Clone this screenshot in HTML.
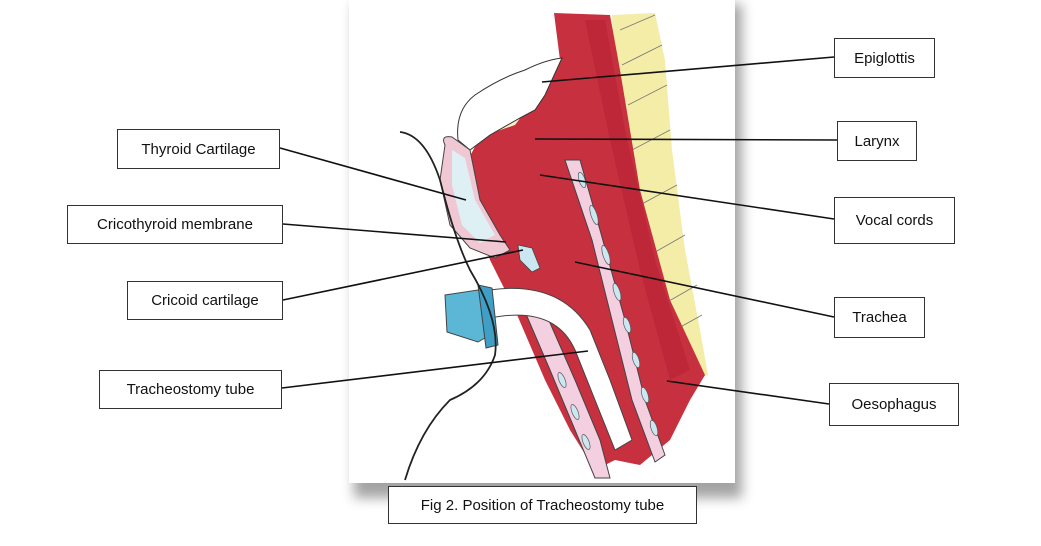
<!DOCTYPE html>
<html><head><meta charset="utf-8"><style>
body{margin:0;width:1041px;height:546px;background:#fff;overflow:hidden;position:relative;font-family:"Liberation Sans",sans-serif}
.b{position:absolute;border:1.5px solid #333;background:#fff;font-size:15px;color:#111;display:flex;align-items:center;justify-content:center;box-sizing:border-box}
svg{position:absolute;left:0;top:0}
</style></head><body>
<svg width="1041" height="546" viewBox="0 0 1041 546">
<defs><filter id="sh" x="-10%" y="-10%" width="130%" height="130%"><feGaussianBlur stdDeviation="6"/></filter></defs>
<rect x="354" y="4" width="388" height="494" fill="#666" filter="url(#sh)" opacity="0.6"/>
<rect x="349" y="0" width="386" height="483" fill="#fff"/>
<!-- yellow -->
<path d="M612,15 L655,13 L665,60 L672,150 L685,250 L700,330 L708,375 L680,385 L640,250 L615,100 Z" fill="#f3eda8"/>
<g stroke="#777" stroke-width="0.8"><line x1="620" y1="30" x2="655" y2="15"/><line x1="622" y1="65" x2="662" y2="45"/><line x1="628" y1="105" x2="667" y2="85"/><line x1="632" y1="150" x2="670" y2="130"/><line x1="640" y1="205" x2="677" y2="185"/><line x1="650" y1="255" x2="685" y2="235"/><line x1="662" y1="305" x2="697" y2="285"/><line x1="675" y1="330" x2="702" y2="315"/></g>
<path d="M460,120 Q480,95 520,88 L550,95 L560,120 L520,130 L480,140 L465,160 Z" fill="#f7f2c8"/>
<!-- red muscle -->
<path d="M554,13 L610,15 L620,70 L640,190 L670,300 L705,375 L690,400 L670,440 L640,465 L615,460 L595,470 L570,430 L545,380 L515,310 L490,260 L472,200 L468,160 L480,137 L515,125 L545,85 L560,60 Z" fill="#c7303f"/>
<path d="M585,20 L605,20 L625,130 L655,260 L690,370 L670,380 L640,270 L610,140 Z" fill="#b31e32" opacity="0.5"/>
<!-- epiglottis white -->
<path d="M525,70 Q545,60 562,58 L545,95 L535,110 L520,118 L490,135 L470,150 L458,140 Q455,110 475,95 Q500,78 525,70 Z" fill="#fff" stroke="#333" stroke-width="1"/>
<!-- trachea rings band -->
<path d="M565,160 L580,160 L600,230 L625,320 L645,400 L665,455 L655,462 L632,400 L612,320 L592,240 Z" fill="#f4cfe0" stroke="#444" stroke-width="1"/>
<path d="M520,300 L540,300 L575,380 L600,440 L610,478 L595,478 L575,430 L550,370 Z" fill="#f4cfe0" stroke="#444" stroke-width="1"/>
<g fill="#cbe8f2" stroke="#555" stroke-width="0.7">
<ellipse cx="582" cy="180" rx="3" ry="8" transform="rotate(-18 582 180)"/>
<ellipse cx="594" cy="215" rx="3" ry="10" transform="rotate(-18 594 215)"/>
<ellipse cx="606" cy="255" rx="3" ry="10" transform="rotate(-18 606 255)"/>
<ellipse cx="617" cy="292" rx="3" ry="9" transform="rotate(-18 617 292)"/>
<ellipse cx="627" cy="325" rx="3" ry="8" transform="rotate(-18 627 325)"/>
<ellipse cx="636" cy="360" rx="3" ry="8" transform="rotate(-18 636 360)"/>
<ellipse cx="645" cy="395" rx="3" ry="8" transform="rotate(-18 645 395)"/>
<ellipse cx="654" cy="428" rx="3" ry="8" transform="rotate(-18 654 428)"/>
<ellipse cx="562" cy="380" rx="3" ry="8" transform="rotate(-22 562 380)"/>
<ellipse cx="575" cy="412" rx="3" ry="8" transform="rotate(-22 575 412)"/>
<ellipse cx="586" cy="442" rx="3" ry="8" transform="rotate(-22 586 442)"/>
</g>
<!-- thyroid cartilage -->
<path d="M445,145 Q440,135 452,137 L470,150 L480,200 L500,235 L510,250 L495,258 L470,248 L450,225 L440,180 Z" fill="#f0c8d4" stroke="#444" stroke-width="1"/>
<path d="M452,150 L465,158 L475,200 L495,235 L480,243 L462,225 L452,185 Z" fill="#dff0f5"/>
<path d="M518,245 L532,248 L540,268 L532,272 L520,260 Z" fill="#cbe8f2" stroke="#444" stroke-width="0.8"/>
<!-- tube -->
<path d="M490,290 Q560,280 590,330 L610,380 L632,440 L615,450 L595,400 L575,350 Q555,305 490,318 Z" fill="#fff" stroke="#444" stroke-width="1"/>
<path d="M445,295 L478,290 L488,300 L490,335 L478,342 L447,332 Z" fill="#5cb7d6" stroke="#444" stroke-width="1"/>
<path d="M478,285 L492,288 L498,345 L486,348 Z" fill="#3f9fc6" stroke="#444" stroke-width="1"/>
<!-- black curved line -->
<path d="M400,132 Q425,135 440,180 Q455,240 470,270 Q500,320 495,355 Q485,385 450,400 Q420,430 405,480" fill="none" stroke="#222" stroke-width="1.8"/>
<!-- leader lines -->
<g stroke="#111" stroke-width="1.6" fill="none">
<line x1="834" y1="57" x2="542" y2="82"/>
<line x1="837" y1="140" x2="535" y2="139"/>
<line x1="834" y1="219" x2="540" y2="175"/>
<line x1="834" y1="317" x2="575" y2="262"/>
<line x1="829" y1="404" x2="667" y2="381"/>
<line x1="280" y1="148" x2="466" y2="200"/>
<line x1="283" y1="224" x2="506" y2="242"/>
<line x1="283" y1="300" x2="523" y2="250"/>
<line x1="282" y1="388" x2="588" y2="351"/>
</g>
</svg>
<div class="b" style="left:834px;top:38px;width:101px;height:40px">Epiglottis</div>
<div class="b" style="left:837px;top:121px;width:80px;height:40px">Larynx</div>
<div class="b" style="left:834px;top:197px;width:121px;height:47px">Vocal cords</div>
<div class="b" style="left:834px;top:297px;width:91px;height:41px">Trachea</div>
<div class="b" style="left:829px;top:383px;width:130px;height:43px">Oesophagus</div>
<div class="b" style="left:117px;top:129px;width:163px;height:40px">Thyroid Cartilage</div>
<div class="b" style="left:67px;top:205px;width:216px;height:39px">Cricothyroid membrane</div>
<div class="b" style="left:127px;top:281px;width:156px;height:39px">Cricoid cartilage</div>
<div class="b" style="left:99px;top:370px;width:183px;height:39px">Tracheostomy tube</div>
<div class="b" style="left:388px;top:486px;width:309px;height:38px">Fig 2. Position of Tracheostomy tube</div>
</body></html>
